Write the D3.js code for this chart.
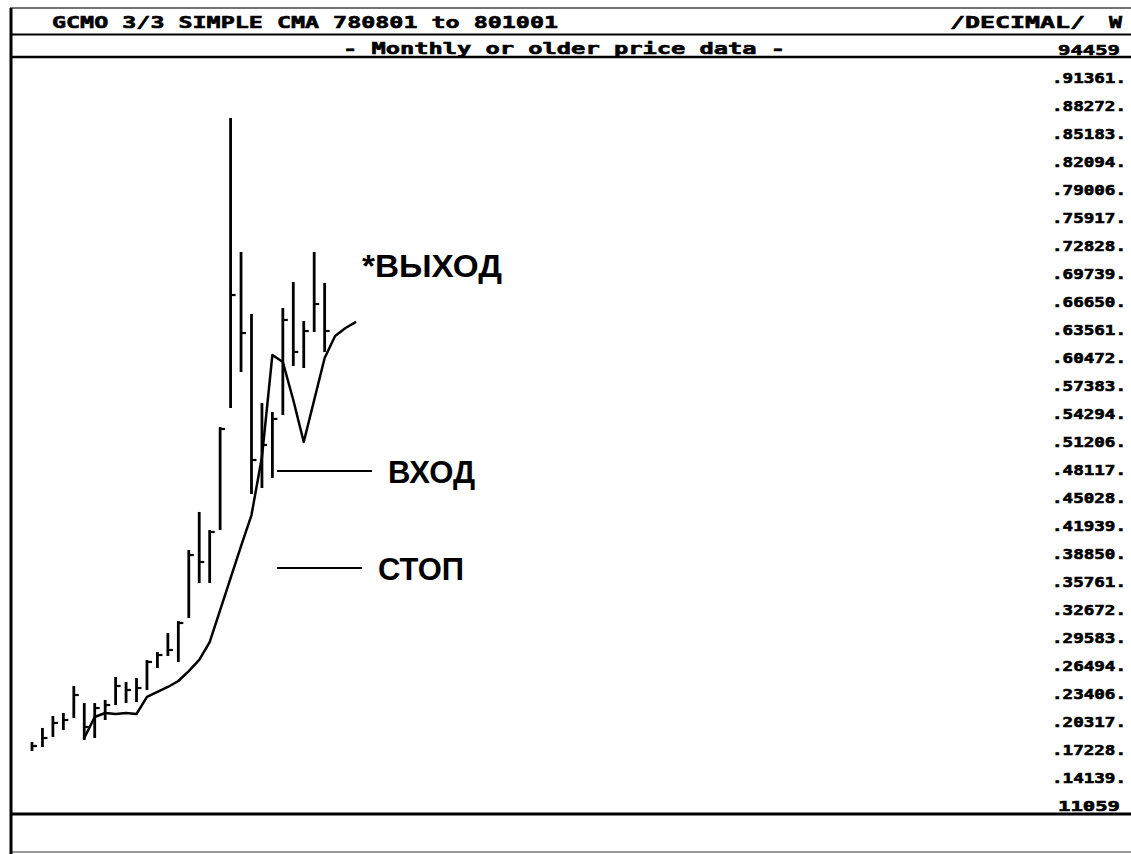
<!DOCTYPE html>
<html>
<head>
<meta charset="utf-8">
<script src="https://cdnjs.cloudflare.com/ajax/libs/d3/7.8.5/d3.min.js"></script>
<style>
body { margin: 0; background: #fff; }
svg { display: block; }
.mono { font-family: "DejaVu Sans Mono", "Liberation Mono", monospace; font-weight: bold; fill: #000; stroke: #000; stroke-width: 0.6px; }
.note { font-family: "Liberation Sans", Arial, sans-serif; font-weight: bold; fill: #000; }
</style>
</head>
<body>
<svg width="1131" height="854"></svg>
<script>
// monthly gold bars + 3/3 displaced simple moving average

var months = ["780601", "780701", "780801", "780901", "781001", "781101", "781201",
    "790101", "790201", "790301", "790401", "790501", "790601", "790701", "790801",
    "790901", "791001", "791101", "791201", "800101", "800201", "800301", "800401",
    "800501", "800601", "800701", "800801", "800901", "801001",
    "801101", "801201", "810101"];

var highs = [18780, 20330, 21650, 21980, 24960, 23080, 23080, 23420, 25950, 25400,
    25840, 27830, 28710, 30810, 32130, 39960, 44160, 42170, 53530, 87620,
    72840, 66000, 56180, 55190, 66660, 69530, 65230, 72840, 69420];
var lows = [17790, 18230, 19330, 20100, 21430, 19000, 19220, 21210, 22860, 23080,
    23190, 24520, 26950, 28270, 27610, 32460, 36320, 36320, 42170, 55630,
    59600, 46140, 46800, 47910, 54860, 60260, 60040, 64010, 61810];
var closes = [18340, 19220, 20880, 21210, 23970, 20440, 22530, 22860, 24960, 24520,
    24740, 27610, 28380, 28930, 31910, 39410, 38640, 41950, 53310, 68090,
    63900, 49890, 51550, 54420, 65340, 61810, 64120, 67100, 64120];

// 3 month average, shifted 3 bars forward (null where not drawn)
var smaLine = [null, null, null, null, null, 19220, 21540, 21980, 21870, 21980,
    21870, 23750, 24300, 24850, 25510, 26610, 27830, 29810, 33340, 36870,
    40400, 43820, 50220, 61480, 60700, 56510, 51880, 56510, 61140, 63570,
    64450, 65120];

var yTickValues = [94459, 91361, 88272, 85183, 82094, 79006, 75917, 72828, 69739,
    66650, 63561, 60472, 57383, 54294, 51206, 48117, 45028, 41939, 38850, 35761,
    32672, 29583, 26494, 23406, 20317, 17228, 14139, 11059];
var yTickLabels = ["94459", "91361", "88272", "85183", "82094", "79006", "75917",
    "72828", "69739", "66650", "63561", "60472", "57383", "54294", "51206", "48117",
    "45028", "41939", "38850", "35761", "32672", "29583", "26494", "23406", "20317",
    "17228", "14139", "11059"];

var entryLevel = 48680;   // ВХОД
var stopLevel = 37980;    // СТОП

var svg = d3.select("svg"),
    width = +svg.attr("width"),
    height = +svg.attr("height");

var x = d3.scalePoint()
    .domain(months)
    .range([32, 356]);

var y = d3.scaleLinear()
    .domain([11059, 94459])
    .range([812, 56]);

// frame
var frame = svg.append("g").attr("stroke", "#000").attr("fill", "none");
frame.append("line").attr("x1", 10).attr("x2", width).attr("y1", 8).attr("y2", 8)
    .attr("stroke-width", 1.5).attr("stroke", "#444");
frame.append("line").attr("x1", 10).attr("x2", width).attr("y1", 34.5).attr("y2", 34.5)
    .attr("stroke-width", 2.2);
frame.append("line").attr("x1", 10).attr("x2", width).attr("y1", 57).attr("y2", 57)
    .attr("stroke-width", 2.5);
frame.append("line").attr("x1", 10).attr("x2", width).attr("y1", 814).attr("y2", 814)
    .attr("stroke-width", 3);
frame.append("line").attr("x1", 10).attr("x2", width).attr("y1", 852).attr("y2", 852)
    .attr("stroke-width", 1.5).attr("stroke", "#777");
frame.append("line").attr("x1", 11).attr("x2", 11).attr("y1", 8).attr("y2", height)
    .attr("stroke-width", 3);

// header texts
svg.append("text").attr("class", "mono")
    .attr("x", 52).attr("y", 28)
    .attr("font-size", 16)
    .attr("textLength", 506).attr("lengthAdjust", "spacingAndGlyphs")
    .text("GCMO 3/3 SIMPLE CMA  780801 to 801001");
svg.append("text").attr("class", "mono")
    .attr("x", 950).attr("y", 28)
    .attr("font-size", 16)
    .attr("textLength", 135).attr("lengthAdjust", "spacingAndGlyphs")
    .text("/DECIMAL/");
svg.append("text").attr("class", "mono")
    .attr("x", 1109).attr("y", 28)
    .attr("font-size", 16)
    .attr("textLength", 13).attr("lengthAdjust", "spacingAndGlyphs")
    .text("W");
svg.append("text").attr("class", "mono")
    .attr("x", 343).attr("y", 54)
    .attr("font-size", 16)
    .attr("textLength", 442).attr("lengthAdjust", "spacingAndGlyphs")
    .text("- Monthly or older price data -");

// price axis on the right
var yAxis = d3.axisLeft(y)
    .tickValues(yTickValues)
    .tickSize(0)
    .tickPadding(0)
    .tickFormat(function (d, i) {
        var s = yTickLabels[i];
        if (i === 0 || i === yTickLabels.length - 1) return s;
        return "." + s + ".";
    });

var axisG = svg.append("g")
    .attr("transform", "translate(1126,0)")
    .call(yAxis);
axisG.select(".domain").remove();
axisG.selectAll("text")
    .attr("class", "mono")
    .attr("font-size", 13.5)
    .attr("dy", -2)
    .attr("x", function (d, i) {
        return (i === 0 || i === yTickValues.length - 1) ? -6 : 0;
    })
    .attr("textLength", function (d, i) {
        return (i === 0 || i === yTickValues.length - 1) ? 62 : 74;
    })
    .attr("lengthAdjust", "spacingAndGlyphs");

// price bars
var bars = svg.append("g").attr("stroke", "#000");
bars.selectAll("line.hl")
    .data(highs)
    .enter().append("line")
    .attr("class", "hl")
    .attr("x1", function (d, i) { return x(months[i]); })
    .attr("x2", function (d, i) { return x(months[i]); })
    .attr("y1", function (d) { return y(d); })
    .attr("y2", function (d, i) { return y(lows[i]); })
    .attr("stroke-width", 2.8);
bars.selectAll("line.cl")
    .data(closes)
    .enter().append("line")
    .attr("class", "cl")
    .attr("x1", function (d, i) { return x(months[i]); })
    .attr("x2", function (d, i) { return x(months[i]) + 5; })
    .attr("y1", function (d) { return y(d); })
    .attr("y2", function (d) { return y(d); })
    .attr("stroke-width", 2.2);

// moving average line
var line = d3.line()
    .defined(function (d) { return d !== null; })
    .x(function (d, i) { return x(months[i]); })
    .y(function (d) { return y(d); });

svg.append("path")
    .datum(smaLine)
    .attr("fill", "none")
    .attr("stroke", "#000")
    .attr("stroke-width", 2.5)
    .attr("stroke-linejoin", "round")
    .attr("d", line);

// annotations
svg.append("line")
    .attr("x1", 277).attr("x2", 372)
    .attr("y1", y(entryLevel)).attr("y2", y(entryLevel))
    .attr("stroke", "#000").attr("stroke-width", 2);
svg.append("line")
    .attr("x1", 277).attr("x2", 362)
    .attr("y1", y(stopLevel)).attr("y2", y(stopLevel))
    .attr("stroke", "#000").attr("stroke-width", 2);

svg.append("text").attr("class", "note")
    .attr("x", 362).attr("y", 277)
    .attr("font-size", 31)
    .attr("textLength", 140).attr("lengthAdjust", "spacingAndGlyphs")
    .text("*ВЫХОД");
svg.append("text").attr("class", "note")
    .attr("x", 388).attr("y", 483)
    .attr("font-size", 31)
    .attr("textLength", 87).attr("lengthAdjust", "spacingAndGlyphs")
    .text("ВХОД");
svg.append("text").attr("class", "note")
    .attr("x", 378).attr("y", 580)
    .attr("font-size", 31)
    .attr("textLength", 86).attr("lengthAdjust", "spacingAndGlyphs")
    .text("СТОП");
</script>
</body>
</html>
